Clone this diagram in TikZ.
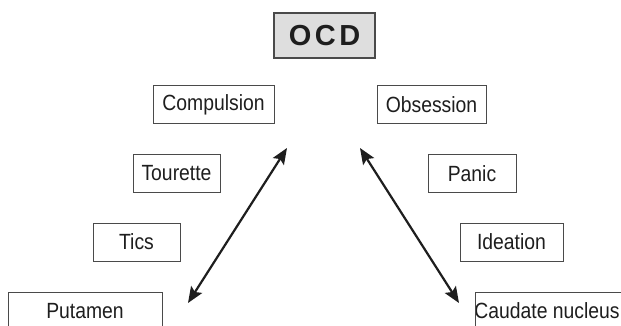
\documentclass[tikz,border=0pt]{standalone}
\usepackage{fontspec}
\setmainfont{Liberation Sans}
\newfontfamily\boxfont[FakeStretch=0.88]{Liberation Sans}
\newfontfamily\ocdfont[LetterSpace=12]{Liberation Sans}
\usetikzlibrary{arrows.meta}
\definecolor{boxline}{HTML}{4A4A4A}
\definecolor{ocdfill}{HTML}{DEDEDE}
\definecolor{txt}{HTML}{1E1E1E}
\begin{document}
\begin{tikzpicture}[x=1pt,y=-1pt,
  lbl/.style={draw=boxline, line width=1pt, rectangle, inner sep=0pt,
    minimum height=38pt, text=txt, font=\boxfont\fontsize{22}{24}\selectfont},
  opentext/.style={inner sep=0pt, text=txt, font=\boxfont\fontsize{22}{24}\selectfont},
  openbox/.style={draw=boxline, line width=1pt},
  title/.style={draw=boxline, line width=1.4pt, fill=ocdfill, inner sep=0pt,
    minimum width=101pt, minimum height=45pt, text=txt,
    font=\ocdfont\bfseries\fontsize{29}{32}\selectfont},
  link/.style={line width=2.2pt, color=txt,
    {Stealth[length=16pt,width=13pt,inset=3pt]}-{Stealth[length=16pt,width=13pt,inset=3pt]}}]
\useasboundingbox (0,0) rectangle (621,326);
\fill[white] (0,0) rectangle (621,326);
\node[title] (ocd) at (324.5,35.5) {OCD};
\node[lbl, minimum width=121pt] (comp) at (213.5,105) {Compulsion};
\node[lbl, minimum width=109pt] (obs) at (431.5,105) {Obsession};
\node[lbl, minimum width=87pt] (tour) at (176.5,173.5) {Tourette};
\node[lbl, minimum width=88pt] (panic) at (472,173.5) {Panic};
\node[lbl, minimum width=87pt] (tics) at (136.5,242) {Tics};
\node[lbl, minimum width=103pt] (idea) at (511.5,242) {Ideation};
\node[opentext] (put) at (85,311) {Putamen};
\node[opentext] (caud) at (547,311) {Caudate nucleus};
\draw[openbox] (8,326) -- (8,292) -- (162,292) -- (162,326);
\draw[openbox] (475,326) -- (475,292) -- (621,292);
\coordinate (la) at (188,303);
\coordinate (lb) at (287,148);
\coordinate (ra) at (360,148);
\coordinate (rb) at (459,303);
\draw[link] (la) -- (lb);
\draw[link] (ra) -- (rb);
\end{tikzpicture}
\end{document}
